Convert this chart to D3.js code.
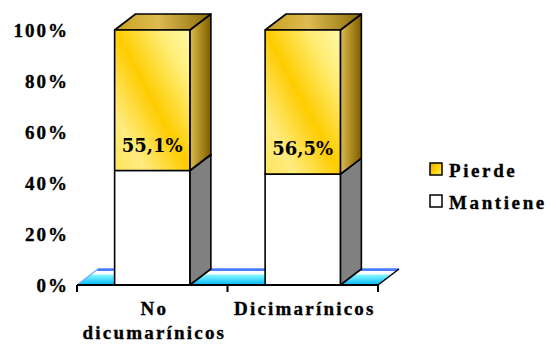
<!DOCTYPE html>
<html>
<head>
<meta charset="utf-8">
<script src="https://cdn.jsdelivr.net/npm/d3@7"></script>
</head>
<body style="margin:0;padding:0;background:#fff;">
<svg id="chart" width="551" height="345" style="display:block"></svg>
<script>
// Categories and series (percent of patients)
const categories = ["No dicumarínicos", "Dicimarínicos"];
const seriesNames = ["Mantiene", "Pierde"];
const mantiene = [44.9, 43.5];
const pierde = [55.1, 56.5];
const pierdeLabels = ["55,1%", "56,5%"];
const yTicks = [0, 20, 40, 60, 80, 100];

const svg = d3.select("#chart");

// 3D depth offset
const DX = 21, DY = -16;

const x = d3.scaleBand().domain(categories).range([77, 378]).paddingInner(0.5).paddingOuter(0.25);
const y = d3.scaleLinear().domain([0, 100]).range([285, 30]);

// Bold serif text, widened by a fixed amount per character gap
function label(parent, str, spacing) {
  const t = parent.append("text")
    .style("font-family", "\"Liberation Serif\"")
    .style("font-weight", "bold")
    .style("font-size", "19px")
    .attr("fill", "#000")
    .attr("stroke", "#000")
    .attr("stroke-width", 0.35)
    .text(str);
  const w = t.node().getComputedTextLength();
  t.attr("textLength", w + spacing * (str.length - 1)).attr("lengthAdjust", "spacing");
  return t;
}

const defs = svg.append("defs");
function lin(id, x1, y1, x2, y2, stops) {
  const g = defs.append("linearGradient").attr("id", id)
    .attr("x1", x1).attr("y1", y1).attr("x2", x2).attr("y2", y2);
  stops.forEach(s => g.append("stop").attr("offset", s[0]).attr("stop-color", s[1]));
}
lin("pFront", 1, 0, 0, 1, [[0, "#FFF8A8"], [0.2, "#FFEE78"], [0.5, "#FFCC00"], [0.8, "#FFEC80"], [1, "#FFE45A"]]);
lin("pSide", 0, 0, 1, 0, [[0, "#D9BC52"], [0.5, "#AF8C20"], [1, "#7C5E00"]]);
lin("pTop", 0, 0, 1, 0, [[0, "#C9A020"], [0.45, "#DDBB50"], [1, "#8C6C08"]]);
lin("floorG", 0, 0, 0, 1, [[0, "#4A7CFF"], [0.1, "#4A7CFF"], [0.14, "#FFFFFF"], [0.3, "#FFFFFF"], [0.4, "#7FF4FF"], [1, "#00B8FF"]]);
lin("legP", 0, 0, 1, 1, [[0, "#E0A800"], [0.5, "#FFD000"], [1, "#FFF070"]]);

const styles = {
  Mantiene: { front: "#FFFFFF", side: "#808080", top: "#C0C0C0" },
  Pierde: { front: "url(#pFront)", side: "url(#pSide)", top: "url(#pTop)" }
};

// Floor of the plot
const x0 = x.range()[0], x1 = x.range()[1], yb = y(0);
svg.append("path")
  .attr("d", `M${x0},${yb} L${x1},${yb} L${x1 + DX},${yb + DY} L${x0 + DX},${yb + DY} Z`)
  .attr("fill", "url(#floorG)");
svg.append("line").attr("x1", x0 + DX).attr("y1", yb + DY).attr("x2", x1 + DX).attr("y2", yb + DY)
  .attr("stroke", "#4A7CFF").attr("stroke-width", 1.5);
svg.append("line").attr("x1", x0).attr("y1", yb).attr("x2", x0 + DX).attr("y2", yb + DY)
  .attr("stroke", "#7FB0FF").attr("stroke-width", 1.5);
svg.append("line").attr("x1", x1).attr("y1", yb).attr("x2", x1 + DX).attr("y2", yb + DY)
  .attr("stroke", "#000").attr("stroke-width", 1.5);

// Stacked data
const rows = categories.map((c, i) => ({ cat: c, Mantiene: mantiene[i], Pierde: pierde[i] }));
const stacked = d3.stack().keys(seriesNames)(rows);

const barsG = svg.append("g");
categories.forEach((c, i) => {
  const bx = x(c), bw = x.bandwidth();
  stacked.forEach(layer => {
    const d = layer[i];
    const yTop = y(d[1]), yBot = y(d[0]);
    const st = styles[layer.key];
    const g = barsG.append("g").attr("stroke", "#000").attr("stroke-width", 1.6).attr("stroke-linejoin", "round");
    g.append("path")
      .attr("d", `M${bx + bw},${yBot} L${bx + bw + DX},${yBot + DY} L${bx + bw + DX},${yTop + DY} L${bx + bw},${yTop} Z`)
      .attr("fill", st.side);
    g.append("path")
      .attr("d", `M${bx},${yTop} L${bx + DX},${yTop + DY} L${bx + bw + DX},${yTop + DY} L${bx + bw},${yTop} Z`)
      .attr("fill", st.top);
    g.append("rect").attr("x", bx).attr("y", yTop).attr("width", bw).attr("height", yBot - yTop)
      .attr("fill", st.front);
  });
  // Value label inside the Pierde segment
  const dP = stacked[1][i];
  svg.append("text")
    .attr("x", bx + bw / 2)
    .attr("y", y(dP[0]) - 19)
    .attr("text-anchor", "middle")
    .attr("fill", "#000")
    .style("font-family", "\"DejaVu Serif\"")
    .style("font-weight", "bold")
    .style("font-size", "18px")
    .text(pierdeLabels[i]);
});

// X axis line and ticks
const axisG = svg.append("g");
axisG.append("line").attr("x1", x0).attr("x2", x1).attr("y1", yb).attr("y2", yb)
  .attr("stroke", "#000").attr("stroke-width", 2);
const tickXs = [x0].concat(categories.map(c => x(c) + x.bandwidth() / 2 + x.step() / 2));
tickXs.forEach(tx => {
  axisG.append("line").attr("x1", tx).attr("x2", tx).attr("y1", yb).attr("y2", yb + 7)
    .attr("stroke", "#000").attr("stroke-width", 2);
});

// Category labels (wrapped on spaces)
categories.forEach(c => {
  c.split(" ").forEach((w, k) => {
    label(svg, w, 2.2).attr("text-anchor", "middle")
      .attr("x", x(c) + x.bandwidth() / 2 + 1).attr("y", 315 + k * 24);
  });
});

// Y tick labels
yTicks.forEach(v => {
  label(svg, v + "%", 2).attr("text-anchor", "end")
    .attr("x", 67).attr("y", y(v) + 7);
});

// Legend
const legend = [
  { name: "Pierde", fill: "url(#legP)", y: 170 },
  { name: "Mantiene", fill: "#FFFFFF", y: 202 }
];
legend.forEach(l => {
  svg.append("rect").attr("x", 430).attr("y", l.y - 7).attr("width", 12).attr("height", 12)
    .attr("fill", l.fill).attr("stroke", "#000").attr("stroke-width", 1.5);
  label(svg, l.name, 2.6).attr("x", 449).attr("y", l.y + 7);
});
</script>
</body>
</html>
